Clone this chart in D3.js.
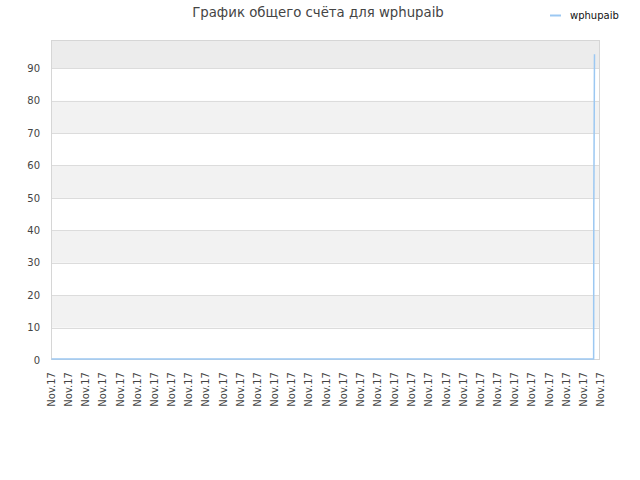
<!DOCTYPE html>
<html>
<head>
<meta charset="utf-8">
<script src="https://cdn.jsdelivr.net/npm/d3@7"></script>
<style>
  body { margin: 0; background: #fff; }
  svg { display: block; font-family: "DejaVu Sans", sans-serif; }
</style>
</head>
<body>
<script>
// score history for one player (time in hours from start)
var times = [0, 31.6, 31.61, 31.65];
var scores = [0, 0, 47, 94];
var playerName = "wphupaib";
var titleText = "График общего счёта для wphupaib";

var tickLabels = ["Nov.17", "Nov.17", "Nov.17", "Nov.17", "Nov.17", "Nov.17",
  "Nov.17", "Nov.17", "Nov.17", "Nov.17", "Nov.17", "Nov.17", "Nov.17",
  "Nov.17", "Nov.17", "Nov.17", "Nov.17", "Nov.17", "Nov.17", "Nov.17",
  "Nov.17", "Nov.17", "Nov.17", "Nov.17", "Nov.17", "Nov.17", "Nov.17",
  "Nov.17", "Nov.17", "Nov.17", "Nov.17", "Nov.17", "Nov.17"];
var yTicks = [0, 10, 20, 30, 40, 50, 60, 70, 80, 90];

var margin = {top: 40, right: 40, bottom: 120, left: 51},
  width = 640 - margin.left - margin.right,
  height = 480 - margin.top - margin.bottom;

var x = d3.scaleLinear()
  .domain([0, tickLabels.length - 1])
  .range([0, width]);

var y = d3.scaleLinear()
  .domain([0, d3.max(scores) * 1.05])
  .range([height, 0]);

var svg = d3.select("body").append("svg")
  .attr("width", 640)
  .attr("height", 480);

svg.append("text")
  .attr("x", 318)
  .attr("y", 17)
  .attr("text-anchor", "middle")
  .attr("fill", "#444")
  .style("font-size", "13.3px")
  .text(titleText);

// legend
svg.append("line")
  .attr("x1", 550).attr("x2", 561)
  .attr("y1", 15.5).attr("y2", 15.5)
  .attr("stroke", "#9cc8f2")
  .attr("stroke-width", 2);
svg.append("text")
  .attr("x", 570)
  .attr("y", 19)
  .attr("fill", "#111")
  .style("font-size", "10px")
  .text(playerName);

var g = svg.append("g")
  .attr("transform", "translate(" + margin.left + "," + margin.top + ")");

// alternating bands between grid lines
var bandEdges = yTicks.concat([y.domain()[1]]);
var bands = d3.pairs(bandEdges);
g.selectAll(".band")
  .data(bands)
  .enter().append("rect")
  .attr("class", "band")
  .attr("x", 0)
  .attr("width", width)
  .attr("y", function(d) { return y(d[1]); })
  .attr("height", function(d) { return y(d[0]) - y(d[1]); })
  .attr("fill", function(d, i) {
    if (i == bands.length - 1) return "#ececec";
    return i % 2 ? "#f2f2f2" : "#fff";
  });

g.selectAll(".grid")
  .data(yTicks.slice(1))
  .enter().append("line")
  .attr("class", "grid")
  .attr("x1", 0).attr("x2", width)
  .attr("y1", function(d) { return Math.round(y(d)) + 0.5; })
  .attr("y2", function(d) { return Math.round(y(d)) + 0.5; })
  .attr("stroke", "#dcdcdc");

g.append("rect")
  .attr("x", 0.5).attr("y", 0.5)
  .attr("width", width - 1).attr("height", height - 1)
  .attr("fill", "none")
  .attr("stroke", "#d6d6d6");

// y axis
var yAxis = g.append("g")
  .call(d3.axisLeft(y).tickValues(yTicks).tickSize(0).tickPadding(11));
yAxis.select(".domain").remove();
yAxis.selectAll("text")
  .attr("fill", "#444")
  .style("font-size", "10px")
  .style("font-family", "DejaVu Sans, sans-serif");

// x axis
var xAxis = g.append("g")
  .attr("transform", "translate(0," + height + ")")
  .call(d3.axisBottom(x)
    .tickValues(d3.range(tickLabels.length))
    .tickFormat(function(i) { return tickLabels[i]; })
    .tickSize(0));
xAxis.select(".domain").remove();
xAxis.selectAll("text")
  .attr("fill", "#444")
  .style("font-size", "10px")
  .style("font-family", "DejaVu Sans, sans-serif")
  .attr("text-anchor", "end")
  .attr("transform", "rotate(-90)")
  .attr("x", -12)
  .attr("y", 0)
  .attr("dy", "0.35em");

// score line
var pts = times.map(function(t, i) { return [t, scores[i]]; });
var line = d3.line()
  .x(function(d) { return x(d[0]) + 0.5; })
  .y(function(d) { return y(d[1]) - 1; });

g.append("path")
  .datum(pts)
  .attr("fill", "none")
  .attr("stroke", "#9cc8f2")
  .attr("stroke-width", 1.5)
  .attr("d", line);
</script>
</body>
</html>
